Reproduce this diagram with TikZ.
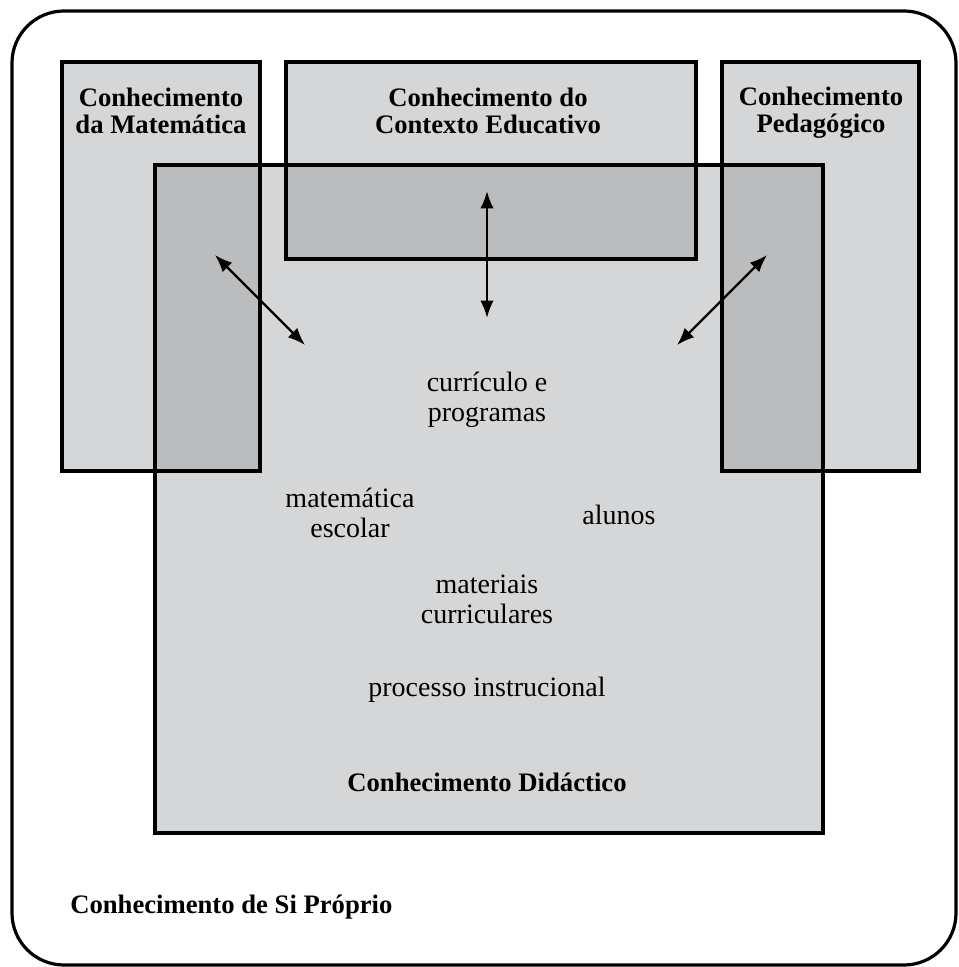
\documentclass[tikz,border=0pt]{standalone}
\usepackage{fontspec}
\setmainfont{Liberation Serif}
\usetikzlibrary{arrows.meta}

\definecolor{boxlight}{RGB}{212,214,215}
\definecolor{boxdark}{RGB}{186,188,190}

\tikzset{
    title/.style={font=\bfseries\fontsize{20}{20.5}\selectfont, align=center, inner sep=0pt},
    topic/.style={font=\fontsize{21}{22.5}\selectfont, align=center, inner sep=0pt},
    frame/.style={line width=2.4pt},
    link/.style={line width=1.7pt, {Latex[length=13pt,width=10pt]}-{Latex[length=13pt,width=10pt]}},
}

\begin{document}
\begin{tikzpicture}[x=0.75pt, y=-0.75pt]
    \useasboundingbox (0,0) rectangle (959,967);
    % outer frame
    \draw[frame, rounded corners=39pt] (12,11) rectangle (956,965);
    % fills
    \fill[boxlight] (155,165) rectangle (823,833);
    \fill[boxlight] (62,62) rectangle (260,471);
    \fill[boxlight] (286,62) rectangle (696,259);
    \fill[boxlight] (722,62) rectangle (919,471);
    \fill[boxdark] (155,165) rectangle (260,471);
    \fill[boxdark] (286,165) rectangle (696,259);
    \fill[boxdark] (722,165) rectangle (823,471);
    % borders
    \draw[frame] (155,165) rectangle (823,833);
    \draw[frame] (62,62) rectangle (260,471);
    \draw[frame] (286,62) rectangle (696,259);
    \draw[frame] (722,62) rectangle (919,471);

    \node[title] (mat) at (161,111) {Conhecimento\\da Matemática};
    \node[title] (ctx) at (488,111) {Conhecimento do\\Contexto Educativo};
    \node[title] (ped) at (821,113) {Conhecimento\\Pedagógico};
    \node[title] (did) at (487,782) {Conhecimento Didáctico};
    \node[title, anchor=west] (self) at (70,907) {Conhecimento de Si Próprio};

    \node[topic] (curr) at (487,400) {currículo e\\programas};
    \node[topic] (mesc) at (350,513) {matemática\\escolar};
    \node[topic] (alun) at (619,515) {alunos};
    \node[topic] (matc) at (487,599) {materiais\\curriculares};
    \node[topic] (proc) at (487,690) {processo instrucional};

    % arrows
    \coordinate (matin) at (215,255);
    \coordinate (matout) at (305,345);
    \coordinate (ctxin) at (487,191);
    \coordinate (ctxout) at (487,318);
    \coordinate (pedin) at (767,255);
    \coordinate (pedout) at (677,345);
    \draw[link] (matin) -- (matout);
    \draw[link] (ctxin) -- (ctxout);
    \draw[link] (pedin) -- (pedout);
\end{tikzpicture}
\end{document}
